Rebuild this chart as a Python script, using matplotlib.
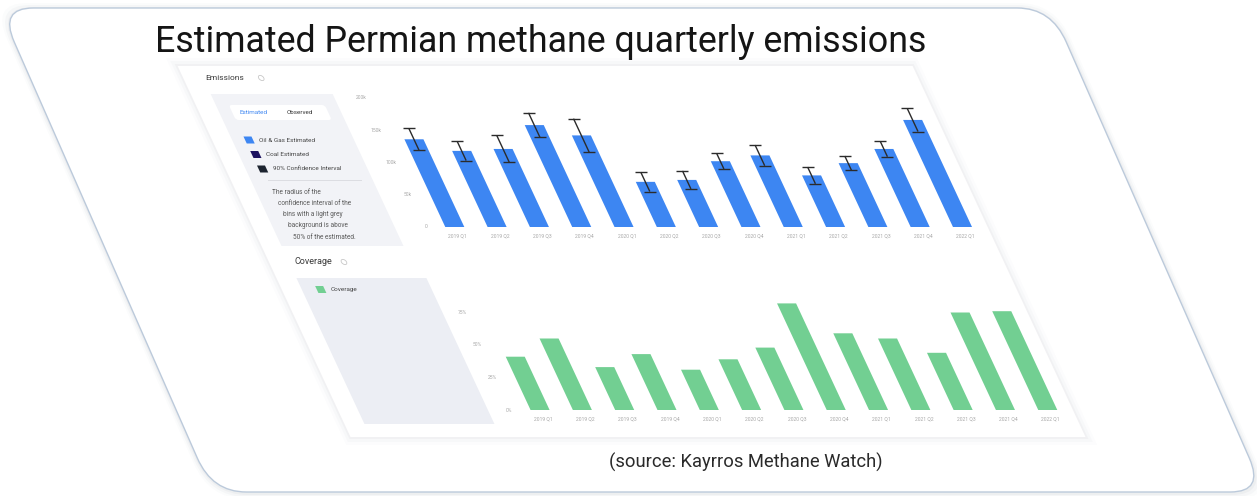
import numpy as np
import matplotlib

matplotlib.use("Agg")
import matplotlib.pyplot as plt  # noqa: E402
from matplotlib.patches import Rectangle, FancyBboxPatch, Circle  # noqa: E402
from matplotlib.transforms import Affine2D  # noqa: E402

plt.rcParams["font.family"] = ["Roboto", "DejaVu Sans"]

W, H = 1257, 496

TITLE = "Estimated Permian methane quarterly emissions"
SOURCE = "(source: Kayrros Methane Watch)"

QUARTERS = [
    "2019 Q1", "2019 Q2", "2019 Q3", "2019 Q4",
    "2020 Q1", "2020 Q2", "2020 Q3", "2020 Q4",
    "2021 Q1", "2021 Q2", "2021 Q3", "2021 Q4",
    "2022 Q1",
]
# oil & gas estimated emissions, thousands of tonnes, with 90% CI half-width
EMISSIONS_K = [136, 118, 121, 158, 142, 70, 73, 102, 111, 80, 99, 121, 166]
EMISSIONS_ERR_K = [17, 15, 21, 19, 26, 15, 14, 12, 16, 13, 11, 12, 18]
EMISSION_TICKS = [0, 50, 100, 150, 200]
EMISSION_TICK_LABELS = ["0", "50k", "100k", "150k", "200k"]

COVERAGE_PCT = [41, 55, 33, 43, 31, 39, 48, 82, 59, 55, 44, 75, 76]
COVERAGE_TICKS = [0, 25, 50, 75]
COVERAGE_TICK_LABELS = ["0%", "25%", "50%", "75%"]

LEGEND_ITEMS = ["Oil & Gas Estimated", "Coal Estimated", "90% Confidence Interval"]
LEGEND_COLORS = ["#3d86f2", "#1c1260", "#1d2430"]
NOTE_LINES = [
    "The radius of the",
    "confidence interval of the",
    "bins with a light grey",
    "background is above",
    "50% of the estimated.",
]

BLUE = "#3d86f2"
GREEN = "#72cf92"

# the screenshot is sheared: higher points slide to the left
K_CARD = 0.44
K_DASH = 0.466
S_CARD = Affine2D().skew(-np.arctan(K_CARD), 0)
S_DASH = Affine2D().skew(-np.arctan(K_DASH), 0)


def flat_text(x, y, s, **kw):
    return fig.text(x, y, s, transform=S_DASH, **kw)


fig = plt.figure(figsize=(W / 100, H / 100), dpi=100)
fig.patch.set_facecolor("white")

# card with soft shadow
for i, a in enumerate([0.05, 0.035, 0.02]):
    pad = 2 + 2 * i
    fig.patches.append(FancyBboxPatch(
        (214 - pad, 4 - pad - 1), 1052 + 2 * pad, 484 + 2 * pad,
        boxstyle="round,pad=0,rounding_size=36", transform=S_CARD,
        fc="#5a6a80", ec="none", alpha=a, zorder=0))
fig.patches.append(FancyBboxPatch(
    (214, 4), 1052, 484, boxstyle="round,pad=0,rounding_size=34",
    transform=S_CARD, fc="white", ec="#bccadb", lw=1.0, zorder=1))

# dashboard screenshot frame
for i, a in enumerate([0.05, 0.03, 0.02]):
    pad = 2 + 3 * i
    fig.patches.append(Rectangle((378 - pad, 59 - pad), 735 + 2 * pad, 371 + 2 * pad,
                                 transform=S_DASH, fc="#7a8599", ec="none",
                                 alpha=a, zorder=1.5))
fig.patches.append(Rectangle((378, 59), 735, 371, transform=S_DASH,
                             fc="white", ec="none", zorder=2))
fig.patches.append(Rectangle((398, 250), 122, 152, transform=S_DASH,
                             fc="#f2f3f7", ec="none", zorder=2.1))
fig.patches.append(Rectangle((398, 72), 130, 146, transform=S_DASH,
                             fc="#eceef4", ec="none", zorder=2.1))

# emissions side panel
flat_text(400, 418, "Emissions", fontsize=6, color="#3a3a3a", va="center", zorder=3)
fig.patches.append(Circle((456, 418), 2.6, transform=S_DASH, fc="none",
                          ec="#c8c8c8", lw=0.6, zorder=3))
fig.patches.append(FancyBboxPatch((411, 376), 96, 15,
                                  boxstyle="round,pad=0,rounding_size=3",
                                  transform=S_DASH, fc="white", ec="none", zorder=2.5))
flat_text(418, 383, "Estimated", fontsize=4.5, color=BLUE, va="center", zorder=3)
flat_text(465, 383, "Observed", fontsize=4.5, color="#333333", va="center", zorder=3)
for i, (lab, col) in enumerate(zip(LEGEND_ITEMS, LEGEND_COLORS)):
    y = 356 - 14.5 * i
    fig.patches.append(Rectangle((411, y - 3.5), 8, 7, transform=S_DASH,
                                 fc=col, ec="none", zorder=3))
    flat_text(425, y, lab, fontsize=4.6, color="#444444", va="center", zorder=3)
fig.lines.append(plt.Line2D([415, 508], [316, 316], transform=S_DASH,
                            color="#dcdde2", lw=0.7, zorder=3))
for i, line in enumerate(NOTE_LINES):
    flat_text(414, 304 - 11.3 * i, line, fontsize=4.7, color="#5a5a5a",
              va="center", zorder=3)

# coverage side panel
flat_text(404, 234, "Coverage", fontsize=6.5, color="#3a3a3a", va="center", zorder=3)
fig.patches.append(Circle((453, 234), 2.6, transform=S_DASH, fc="none",
                          ec="#c8c8c8", lw=0.6, zorder=3))
fig.patches.append(Rectangle((413, 203), 8, 7, transform=S_DASH,
                             fc=GREEN, ec="none", zorder=3))
flat_text(427, 206.5, "Coverage", fontsize=4.6, color="#444444", va="center", zorder=3)

x = np.arange(len(QUARTERS))

# emissions bars
ax_e = fig.add_axes([559 / W, 269 / H, 550 / W, 129 / H], zorder=4)
ax_e.set_xlim(-0.5, len(QUARTERS) - 0.5)
ax_e.set_ylim(EMISSION_TICKS[0], EMISSION_TICKS[-1])
ax_e.axis("off")
tr_e = ax_e.transData + S_DASH
for p in ax_e.bar(x, EMISSIONS_K, width=0.45, color=BLUE, clip_on=False):
    p.set_transform(tr_e)
eb = ax_e.errorbar(x, EMISSIONS_K, yerr=EMISSIONS_ERR_K, fmt="none",
                   ecolor="#2b2b2b", elinewidth=1.0, capsize=4, capthick=1.0)
for art in list(eb[1]) + list(eb[2]):
    art.set_transform(tr_e)
    art.set_clip_on(False)
for v, lab in zip(EMISSION_TICKS, EMISSION_TICK_LABELS):
    ax_e.text(-0.012, v, lab, transform=ax_e.get_yaxis_transform() + S_DASH,
              ha="right", va="center", fontsize=3.6, color="#a8a8a8")
for i, q in enumerate(QUARTERS):
    ax_e.text(i, -0.05, q, transform=ax_e.get_xaxis_transform() + S_DASH,
              ha="center", va="top", fontsize=3.6, color="#a8a8a8")

# coverage bars
ax_c = fig.add_axes([559 / W, 86 / H, 550 / W, 130 / H], zorder=4)
ax_c.set_xlim(-0.5, len(QUARTERS) - 0.5)
ax_c.set_ylim(0, 100)
ax_c.axis("off")
tr_c = ax_c.transData + S_DASH
for p in ax_c.bar(x, COVERAGE_PCT, width=0.45, color=GREEN, clip_on=False):
    p.set_transform(tr_c)
for v, lab in zip(COVERAGE_TICKS, COVERAGE_TICK_LABELS):
    ax_c.text(-0.012, v, lab, transform=ax_c.get_yaxis_transform() + S_DASH,
              ha="right", va="center", fontsize=3.6, color="#a8a8a8")
for i, q in enumerate(QUARTERS):
    ax_c.text(i, -0.05, q, transform=ax_c.get_xaxis_transform() + S_DASH,
              ha="center", va="top", fontsize=3.6, color="#a8a8a8")

# upright overlay texts, sized to the reference widths
title = fig.text(155 / W, 444 / H, TITLE, fontsize=22, color="#151515",
                 va="baseline", zorder=10)
source = fig.text(746 / W, 28 / H, SOURCE, fontsize=11, color="#2a2a2a",
                  ha="center", va="baseline", zorder=10)
fig.canvas.draw()
for t, target in [(title, 773), (source, 273)]:
    w = t.get_window_extent().width
    t.set_fontsize(t.get_fontsize() * target / w)

fig.savefig("out.png", dpi=100, facecolor="white")
